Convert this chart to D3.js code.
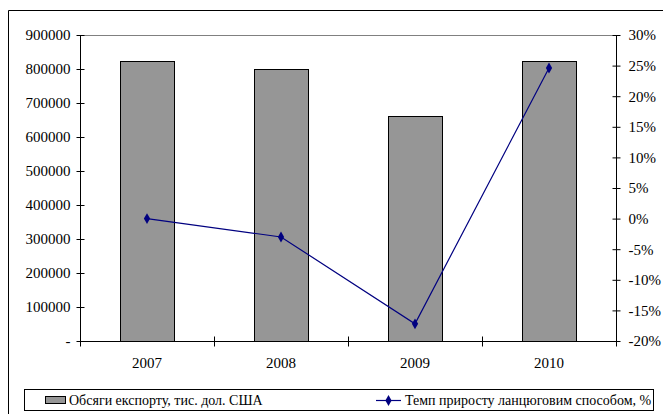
<!DOCTYPE html>
<html><head><meta charset="utf-8">
<script src="https://cdn.jsdelivr.net/npm/d3@7"></script>
<style>html,body{margin:0;padding:0;background:#fff;}svg{display:block;}</style>
</head><body>
<svg id="c" width="663" height="414"></svg>
<script>
const categories = ["2007", "2008", "2009", "2010"];
const exportValues = [825000, 800000, 662000, 825000];
const growthValues = [0, -3.0, -17.2, 24.6];
const leftTicks = [0, 100000, 200000, 300000, 400000, 500000, 600000, 700000, 800000, 900000];
const rightTicks = [-20, -15, -10, -5, 0, 5, 10, 15, 20, 25, 30];
const seriesNames = ["Обсяги експорту, тис. дол. США", "Темп приросту ланцюговим способом, %"];

const svg = d3.select("#c");
const font = "'Liberation Serif','Times New Roman',serif";
const L = 80, R = 616, T = 35, B = 341;

// outer border
svg.append("path").attr("d", "M8.5,420 V10.5 H670").attr("fill", "none").attr("stroke", "#000").attr("stroke-width", 1);

const x = d3.scaleBand().domain(categories).range([L, R]).paddingInner(0.6).paddingOuter(0.3);
const xc = d3.scalePoint().domain(categories).range([L, R]).padding(0.5);
const y = d3.scaleLinear().domain([0, 900000]).range([B, T]);
const y2 = d3.scaleLinear().domain([-20, 30]).range([B, T]);

// top plot border (gray)
svg.append("line").attr("x1", L).attr("x2", R).attr("y1", T + 0.5).attr("y2", T + 0.5).attr("stroke", "#808080");

// bars
const bw = 54;
svg.append("g").selectAll("rect").data(exportValues).join("rect")
  .attr("x", (d, i) => Math.round(xc(categories[i]) - bw / 2) + 0.5)
  .attr("y", d => Math.round(y(d)) + 0.5)
  .attr("width", bw)
  .attr("height", d => B - Math.round(y(d)))
  .attr("fill", "#969696").attr("stroke", "#000").attr("stroke-width", 1);

// left axis
const gl = svg.append("g").attr("transform", `translate(${L + 0.5},0)`)
  .call(d3.axisLeft(y).tickValues(leftTicks).tickSize(4).tickPadding(6).tickFormat(d => d === 0 ? "-" : d3.format("d")(d)));
gl.select(".domain").attr("d", `M0,${T}V${B}`);
gl.selectAll(".tick line").attr("x2", 4).attr("x1", -4);
gl.selectAll(".tick text").attr("x", -10);

// right axis
const gr = svg.append("g").attr("transform", `translate(${R + 0.5},0)`)
  .call(d3.axisRight(y2).tickValues(rightTicks).tickSize(4).tickPadding(8).tickFormat(d => d + "%"));
gr.select(".domain").attr("d", `M0,${T}V${B}`);
gr.selectAll(".tick line").attr("x1", -4).attr("x2", 4);
gr.selectAll(".tick text").attr("x", 12);

// bottom axis
const gb = svg.append("g").attr("transform", `translate(0,${B + 0.5})`);
gb.append("line").attr("x1", L).attr("x2", R).attr("stroke", "#000");
const bounds = d3.range(categories.length + 1).map(i => L + i * (R - L) / categories.length);
gb.selectAll("line.t").data(bounds).join("line").attr("class", "t")
  .attr("x1", d => Math.round(d) + 0.5).attr("x2", d => Math.round(d) + 0.5).attr("y1", -5).attr("y2", 5).attr("stroke", "#000");
gb.selectAll("text").data(categories).join("text")
  .attr("x", d => xc(d)).attr("y", 26).attr("text-anchor", "middle").text(d => d);

svg.selectAll("text").attr("font-family", font).attr("font-size", 15).attr("fill", "#000");
svg.selectAll(".domain, .tick line").attr("stroke", "#000");

// line
const line = d3.line().x((d, i) => xc(categories[i])).y(d => y2(d));
svg.append("path").datum(growthValues).attr("d", line).attr("fill", "none").attr("stroke", "#000080").attr("stroke-width", 1.2);
const diamond = d3.symbol().type(d3.symbolDiamond).size(34);
svg.append("g").selectAll("path").data(growthValues).join("path")
  .attr("transform", (d, i) => `translate(${xc(categories[i])},${y2(d)})`)
  .attr("d", diamond).attr("fill", "#000080");

// legend
const lg = svg.append("g");
lg.append("rect").attr("x", 24.5).attr("y", 389.5).attr("width", 629).attr("height", 21).attr("fill", "#fff").attr("stroke", "#000");
lg.append("rect").attr("x", 45.5).attr("y", 396.5).attr("width", 20).attr("height", 7).attr("fill", "#969696").attr("stroke", "#000");
lg.append("text").attr("x", 69).attr("y", 405).text(seriesNames[0]);
lg.append("line").attr("x1", 376).attr("x2", 401).attr("y1", 400.5).attr("y2", 400.5).attr("stroke", "#000080").attr("stroke-width", 1.2);
lg.append("path").attr("transform", "translate(388.5,400.5)").attr("d", diamond).attr("fill", "#000080");
lg.append("text").attr("x", 405).attr("y", 405).text(seriesNames[1]);
lg.selectAll("text").attr("font-family", font).attr("font-size", 14).attr("fill", "#000");
</script>
</body></html>
